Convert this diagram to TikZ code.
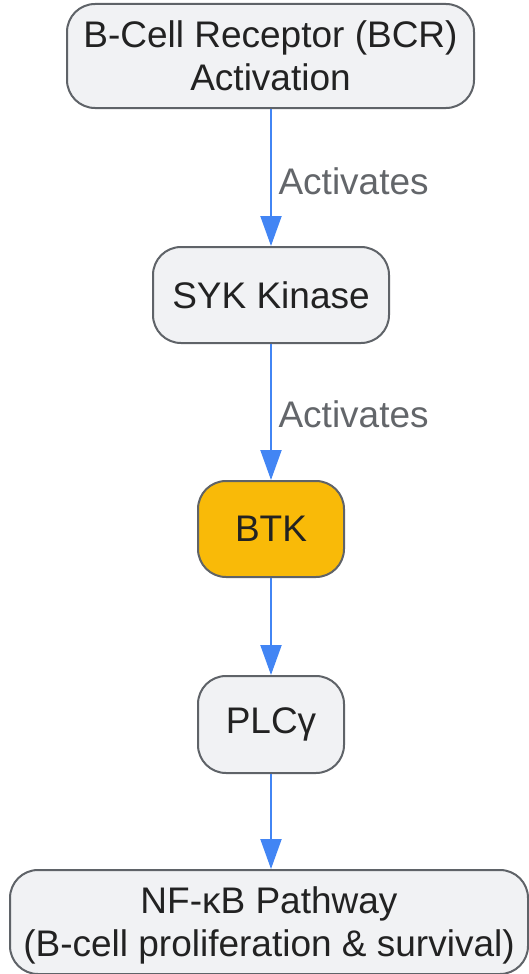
\documentclass[tikz,border=0pt]{standalone}
\usepackage{fontspec}
\setmainfont{Liberation Sans}
\usetikzlibrary{arrows.meta}

\definecolor{boxfill}{HTML}{F1F2F4}
\definecolor{boxline}{HTML}{5F6368}
\definecolor{btkfill}{HTML}{F9BA08}
\definecolor{arrowblue}{HTML}{4285F4}
\definecolor{labelgray}{HTML}{63666A}
\definecolor{textdark}{HTML}{222222}

\tikzset{
    stepbox/.style={draw=boxline, fill=boxfill, line width=2pt, rounded corners=28pt,
        inner sep=0pt, align=center, text=textdark,
        font=\fontsize{37}{43}\selectfont},
    flow/.style={draw=arrowblue, line width=2pt, -{Triangle[length=30pt,width=21pt]}},
    flowlabel/.style={anchor=west, text=labelgray, font=\fontsize{37}{43}\selectfont}
}

\begin{document}
\begin{tikzpicture}[x=1pt, y=-1pt]
    \useasboundingbox (0,0) rectangle (529,974);

    % Boxes
    \node[stepbox, minimum width=407pt, minimum height=104pt] (bcr) at (270.5,56)
        {B-Cell Receptor (BCR)\\Activation};
    \node[stepbox, minimum width=236pt, minimum height=96pt] (syk) at (271,295) {SYK Kinase};
    \node[stepbox, fill=btkfill, minimum width=146pt, minimum height=96pt] (btk) at (271,529) {BTK};
    \node[stepbox, minimum width=146pt, minimum height=97pt] (plc) at (271,724.5) {PLCγ};
    \node[stepbox, text depth=0pt, minimum width=518pt, minimum height=104pt] (nfkb) at (269,922)
        {NF-κB Pathway\\(B-cell proliferation \& survival)};

    % Labels
    \node[flowlabel] (act1) at (275,181) {Activates};
    \node[flowlabel] (act2) at (275,414) {Activates};

    % Arrows
    \draw[flow] (bcr.south -| syk.north) -- (syk.north);
    \draw[flow] (syk) -- (btk);
    \draw[flow] (btk) -- (plc);
    \draw[flow] (plc.south) -- (plc.south |- nfkb.north);
\end{tikzpicture}
\end{document}
